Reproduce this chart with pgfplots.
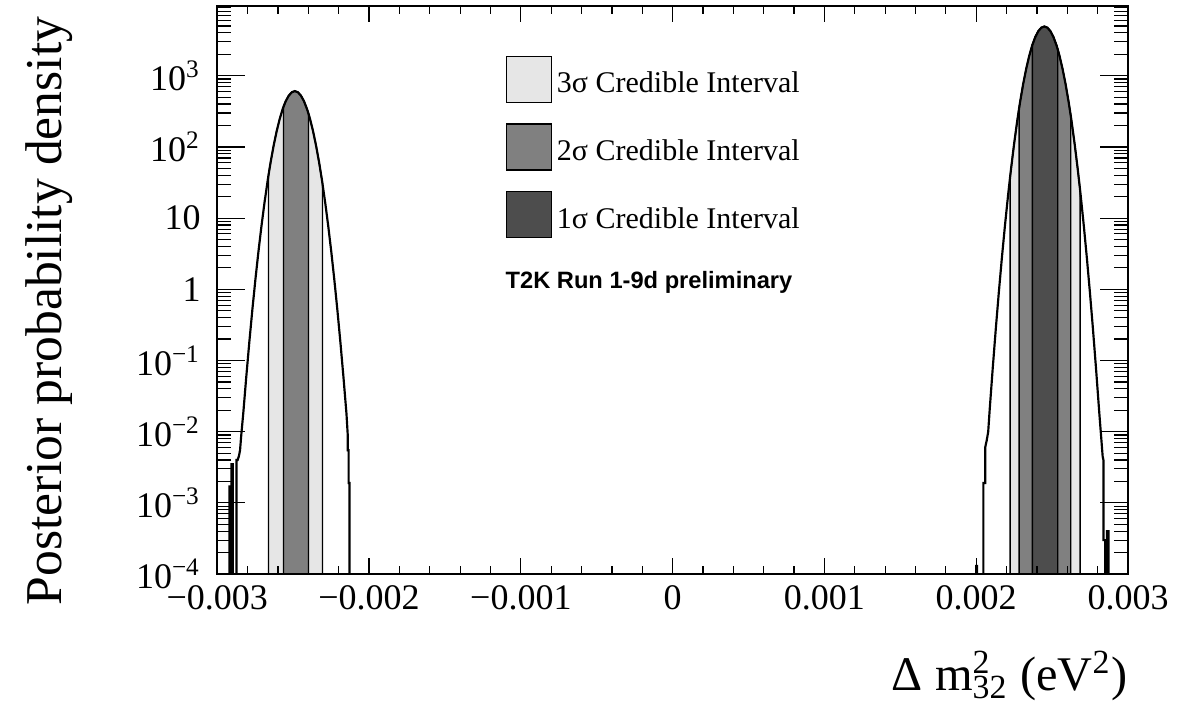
\documentclass[border=0pt]{standalone}
\usepackage{fontspec}
\setmainfont{Liberation Serif}
\newfontfamily\helv{Liberation Sans}
\usepackage{pgfplots}
\pgfplotsset{compat=1.18}

\definecolor{ciThree}{RGB}{230,230,230}
\definecolor{ciTwo}{RGB}{128,128,128}
\definecolor{ciOne}{RGB}{77,77,77}

% posterior, inverted ordering peak (rows at the interval edges included)
\pgfplotstableread{
x y
-0.002930 0.00005
-0.002920 0.00005
-0.002920 0.0017
-0.002914 0.0017
-0.002914 0.00005
-0.002906 0.00005
-0.002906 0.0035
-0.002898 0.0035
-0.002898 0.00005
-0.002874 0.00005
-0.002874 0.0040
-0.002866 0.0040
-0.002858 0.0045
-0.002850 0.0055
-0.002842 0.0090
-0.002829 0.01799
-0.002809 0.05916
-0.002789 0.1811
-0.002769 0.5164
-0.002749 1.368
-0.002729 3.373
-0.002709 7.727
-0.002689 16.48
-0.002669 32.73
-0.0026627 40.0
-0.002649 60.39
-0.002629 103.8
-0.002609 166.0
-0.002589 246.6
-0.002569 341.2
-0.0025639 366.6
-0.002549 439.5
-0.002529 526.0
-0.002509 586.1
-0.002489 608.1
-0.002469 586.1
-0.002449 526.0
-0.002429 439.5
-0.002409 341.2
-0.0023992 293.8
-0.002389 246.6
-0.002369 166.0
-0.002349 103.8
-0.002329 60.39
-0.002309 32.73
-0.0023070 30.6
-0.002289 16.48
-0.002269 7.727
-0.002249 3.373
-0.002229 1.368
-0.002209 0.5164
-0.002189 0.1811
-0.002169 0.05916
-0.002149 0.01799
-0.002141 0.0093
-0.002141 0.0055
-0.002135 0.0055
-0.002135 0.0019
-0.002129 0.0019
-0.002129 0.00005
-0.002110 0.00005
}\leftpeak

% posterior, normal ordering peak (rows at the interval edges included)
\pgfplotstableread{
x y
0.001995 0.00005
0.002000 0.00005
0.002000 0.00013
0.002005 0.00013
0.002005 0.00005
0.002047 0.00005
0.002047 0.0019
0.002059 0.0019
0.002059 0.0060
0.002069 0.0075
0.002079 0.0100
0.002089 0.02075
0.002109 0.07889
0.002129 0.2786
0.002149 0.9099
0.002169 2.754
0.002189 7.727
0.002209 20.09
0.0022233 37.9
0.002229 48.39
0.002249 107.9
0.002269 222.8
0.0022826 349.6
0.002289 426.6
0.002309 756.8
0.002329 1244
0.002349 1892
0.002369 2671
0.0023702 2720
0.002389 3491
0.002409 4227
0.002429 4732
0.002449 4920
0.002469 4732
0.002489 4227
0.002509 3491
0.002529 2671
0.0025375 2329
0.002549 1892
0.002569 1244
0.002589 756.8
0.002609 426.6
0.0026232 271.4
0.002629 222.8
0.002649 107.9
0.002669 48.39
0.0026845 24.66
0.002689 20.09
0.002709 7.727
0.002729 2.754
0.002749 0.9099
0.002769 0.2786
0.002789 0.07889
0.002809 0.02075
0.002823 0.0085
0.002833 0.0045
0.002838 0.0040
0.002838 0.0003
0.002850 0.0003
0.002850 0.00005
0.002862 0.00005
0.002862 0.0004
0.002872 0.0004
0.002872 0.00005
0.002890 0.00005
}\rightpeak

\begin{document}
\begin{tikzpicture}
\begin{axis}[
    scale only axis,
    width=273.2pt, height=170.4pt,
    xmin=-0.003, xmax=0.003,
    ymode=log, ymin=1e-4, ymax=9530,
    log origin y=infty,
    axis on top,
    scaled x ticks=false,
    xtick={-0.003,-0.002,-0.001,0,0.001,0.002,0.003},
    xticklabels={−0.003,−0.002,−0.001,0,0.001,0.002,0.003},
    minor x tick num=4,
    ytick={1e-4,1e-3,1e-2,1e-1,1,10,100,1000},
    yticklabels={10\textsuperscript{−4},10\textsuperscript{−3},10\textsuperscript{−2},10\textsuperscript{−1},1,10,10\textsuperscript{2},10\textsuperscript{3}},
    minor ytick={2e-4,3e-4,4e-4,5e-4,6e-4,7e-4,8e-4,9e-4,
                 2e-3,3e-3,4e-3,5e-3,6e-3,7e-3,8e-3,9e-3,
                 0.02,0.03,0.04,0.05,0.06,0.07,0.08,0.09,
                 0.2,0.3,0.4,0.5,0.6,0.7,0.8,0.9,
                 2,3,4,5,6,7,8,9,
                 20,30,40,50,60,70,80,90,
                 200,300,400,500,600,700,800,900,
                 2000,3000,4000,5000,6000,7000,8000,9000},
    tick align=inside,
    tick style={black, line width=0.35pt},
    xtick style={/pgfplots/major tick length=4.8pt, /pgfplots/minor tick length=2.4pt},
    ytick style={/pgfplots/major tick length=8.3pt, /pgfplots/minor tick length=4.2pt},
    axis line style={line width=0.6pt},
    ticklabel style={font=\fontsize{10.8}{12}\selectfont},
    yticklabel style={xshift=-1.5pt},
    xlabel={Δ m\rlap{\textsuperscript{2}}\textsubscript{32} (eV\textsuperscript{2})},
    xlabel style={at={(rel axis cs:1,-0.2055)}, anchor=base east, inner sep=0pt,
        font=\fontsize{14.5}{16}\selectfont},
    ylabel={Posterior probability density},
    ylabel style={at={(rel axis cs:-0.1716,0.9824)}, anchor=base east, inner sep=0pt,
        font=\fontsize{15.5}{17}\selectfont},
    legend style={at={(rel axis cs:0.3159,0.9137)}, anchor=north west,
        draw=none, fill=none, inner sep=0pt, row sep=6.1pt, column sep=1.5pt,
        nodes={inner sep=0pt}, font=\fontsize{9}{10.8}\selectfont},
    legend cell align=left,
    legend image code/.code={\draw[#1] (0pt,-5.2pt) rectangle (13.5pt,8.6pt);},
]
\addlegendimage{fill=ciThree, draw=black, line width=0.4pt}
\addlegendentry{3σ Credible Interval}
\addlegendimage{fill=ciTwo, draw=black, line width=0.4pt}
\addlegendentry{2σ Credible Interval}
\addlegendimage{fill=ciOne, draw=black, line width=0.4pt}
\addlegendentry{1σ Credible Interval}

% credible intervals, inverted ordering
\addplot[fill=ciThree, draw=black, line width=0.4pt, forget plot]
    table[restrict x to domain=-0.00266271:-0.00230699] {\leftpeak} \closedcycle;
\addplot[fill=ciTwo, draw=black, line width=0.4pt, forget plot]
    table[restrict x to domain=-0.00256391:-0.00239919] {\leftpeak} \closedcycle;

% credible intervals, normal ordering
\addplot[fill=ciThree, draw=black, line width=0.4pt, forget plot]
    table[restrict x to domain=0.00222329:0.00268451] {\rightpeak} \closedcycle;
\addplot[fill=ciTwo, draw=black, line width=0.4pt, forget plot]
    table[restrict x to domain=0.00228259:0.00262321] {\rightpeak} \closedcycle;
\addplot[fill=ciOne, draw=black, line width=0.4pt, forget plot]
    table[restrict x to domain=0.00237019:0.00253751] {\rightpeak} \closedcycle;

\addplot[black, line width=0.65pt, forget plot] table {\leftpeak};
\addplot[black, line width=0.65pt, forget plot] table {\rightpeak};

\node[anchor=base west, inner sep=0pt, font=\helv\bfseries\fontsize{7.1}{8}\selectfont]
    at (rel axis cs:0.3159,0.503) {T2K Run 1-9d preliminary};

\coordinate (bbll) at (rel axis cs:-0.2386,-0.2412);
\coordinate (bbur) at (rel axis cs:1.0615,1.0106);
\end{axis}
\pgfresetboundingbox
\path (bbll) rectangle (bbur);
\end{tikzpicture}
\end{document}
